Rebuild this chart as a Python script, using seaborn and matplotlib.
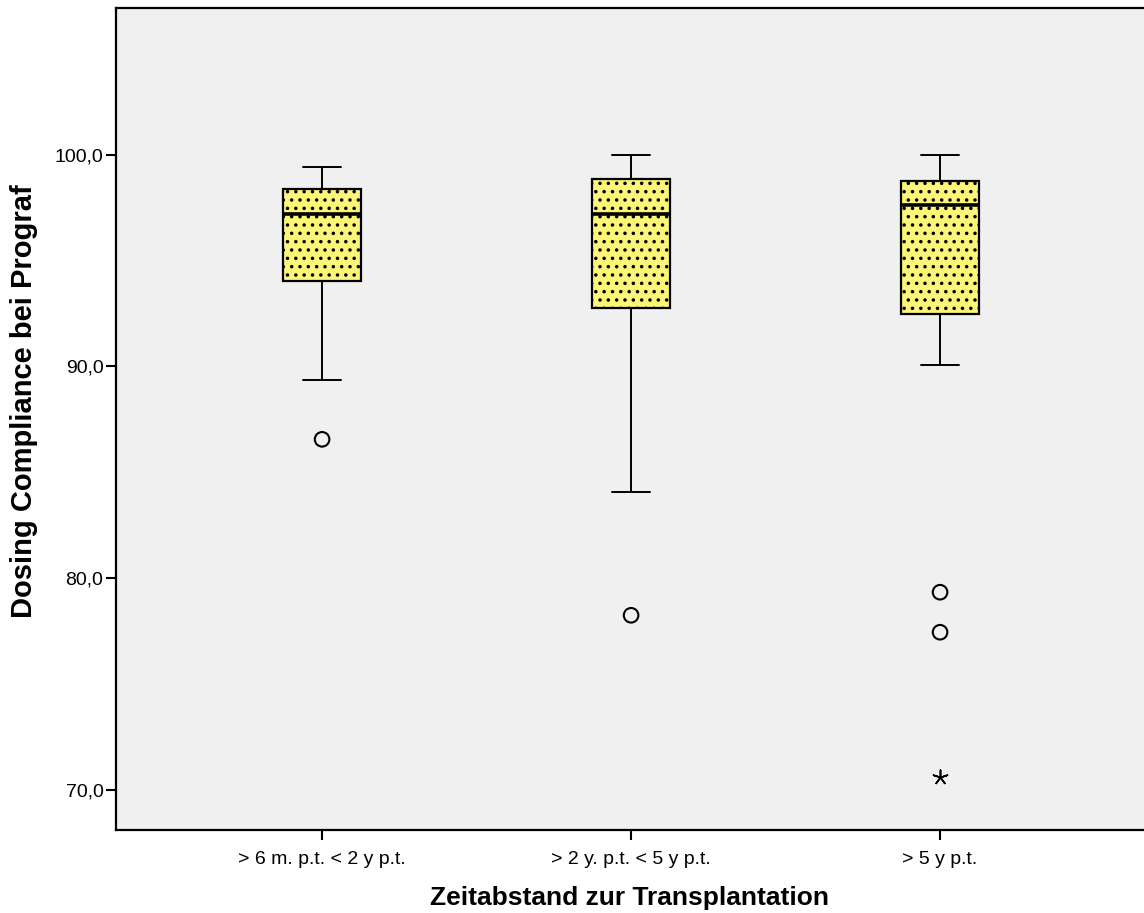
import matplotlib
matplotlib.use("Agg")
import matplotlib.pyplot as plt
import seaborn as sns
import pandas as pd

sns.set_style("white")
plt.rcParams['font.family'] = ['Liberation Sans', 'DejaVu Sans']
plt.rcParams['hatch.color'] = 'black'
plt.rcParams['hatch.linewidth'] = 1.3
plt.rcParams['text.color'] = 'black'
plt.rcParams['axes.labelcolor'] = 'black'
plt.rcParams['xtick.color'] = 'black'
plt.rcParams['ytick.color'] = 'black'

categories = ["> 6 m. p.t. < 2 y p.t.", "> 2 y. p.t. < 5 y p.t.", "> 5 y p.t."]
whisker_high = [99.43, 100.0, 100.0]
q3 = [98.40, 98.87, 98.77]
median = [97.20, 97.20, 97.64]
q1 = [94.06, 92.78, 92.50]
whisker_low = [89.34, 84.06, 90.09]
outlier_group = ["> 6 m. p.t. < 2 y p.t.", "> 2 y. p.t. < 5 y p.t.", "> 5 y p.t.", "> 5 y p.t."]
outlier_value = [86.56, 78.25, 79.34, 77.45]
extreme_group = ["> 5 y p.t."]
extreme_value = [70.61]

fig = plt.figure(figsize=(11.44, 9.13), dpi=100)
ax = fig.add_axes([116/1144, 1 - 830/913, (1144 - 116)/1144, (830 - 8)/913])
ax.set_facecolor('#f0f0f0')

stats = []
for i, c in enumerate(categories):
    stats.append(dict(label=c, whislo=whisker_low[i], q1=q1[i], med=median[i],
                      q3=q3[i], whishi=whisker_high[i], fliers=[]))
bp = ax.bxp(stats, positions=range(len(categories)), widths=0.25, patch_artist=True,
            showfliers=False,
            boxprops=dict(facecolor='#fbf678', edgecolor='black', linewidth=1.6, hatch='..'),
            medianprops=dict(color='black', linewidth=2.6),
            whiskerprops=dict(color='black', linewidth=1.4),
            capprops=dict(color='black', linewidth=1.4))
for cap in bp['caps']:
    x = cap.get_xdata()
    mid = (x[0] + x[1]) / 2
    cap.set_xdata([mid - 0.0625, mid + 0.0625])

pos = {c: i for i, c in enumerate(categories)}
df_o = pd.DataFrame({'x': [pos[g] for g in outlier_group], 'y': outlier_value})
df_e = pd.DataFrame({'x': [pos[g] for g in extreme_group], 'y': extreme_value})
sns.scatterplot(data=df_o, x='x', y='y', ax=ax, marker='o', s=110,
                facecolor='none', edgecolor='black', linewidth=1.5, zorder=5)
sns.scatterplot(data=df_e, x='x', y='y', ax=ax, marker=(5, 2, 0), s=110,
                color='black', linewidth=1.2, zorder=5)

ax.set_xlim(-0.667, 2.66)
ax.set_ylim(68.11, 106.93)
ax.set_xticks(range(len(categories)))
ax.set_xticklabels(categories, fontsize=14)
ax.set_yticks([70, 80, 90, 100])
ax.set_yticklabels(['70,0', '80,0', '90,0', '100,0'], fontsize=14)
ax.tick_params(axis='both', direction='out', length=7, width=1.5, color='black',
               bottom=True, left=True, top=False, right=False)
ax.tick_params(axis='x', pad=8)
ax.tick_params(axis='y', pad=2)
for s in ['left', 'bottom', 'top']:
    ax.spines[s].set_color('black')
    ax.spines[s].set_linewidth(1.6)
ax.spines['right'].set_visible(False)
ax.set_xlabel('Zeitabstand zur Transplantation', fontsize=19, fontweight='bold', labelpad=13)
ax.set_ylabel('Dosing Compliance bei Prograf', fontsize=21, fontweight='bold')
ax.yaxis.set_label_coords(-0.076, 0.522)

fig.savefig('out.png', dpi=100)
